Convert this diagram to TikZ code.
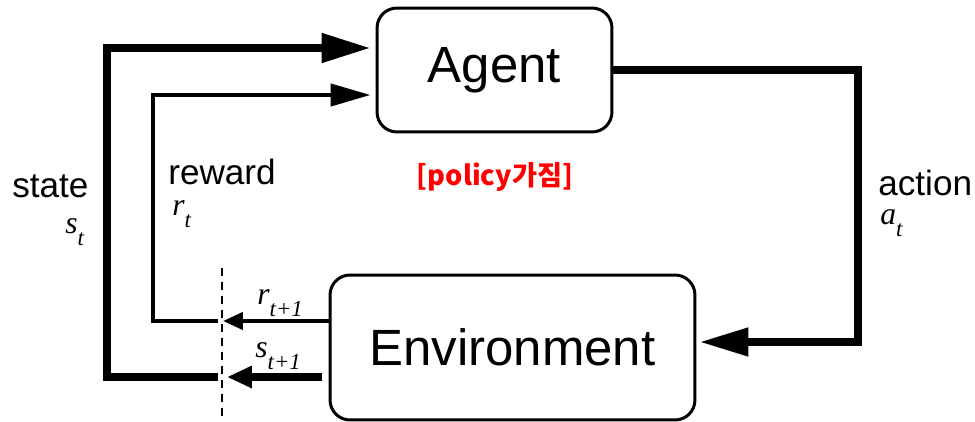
\documentclass[tikz,border=0pt]{standalone}
\usepackage{fontspec}
\setmainfont{Liberation Sans}
\newfontfamily\timesf{Liberation Serif}
\newfontfamily\krfont{Noto Sans CJK KR}
\usetikzlibrary{arrows.meta}
\newcommand{\symsub}[2]{{\timesf\itshape\fontsize{18}{18}\selectfont #1\raisebox{-0.35em}{\fontsize{13}{13}\selectfont #2}}}

\begin{document}
\begin{tikzpicture}[x=0.02cm,y=-0.02cm,
  box/.style={draw,rectangle,rounded corners=0.4cm,line width=1.7pt,font=\fontsize{29}{29}\selectfont},
  heavy/.style={line width=4.5pt},
  light/.style={line width=2.5pt},
  cut/.style={line width=0.8pt,dash pattern=on 0.16cm off 0.12cm},
  lbl/.style={anchor=base west,inner sep=0pt,font=\fontsize{20}{20}\selectfont},
  sym/.style={anchor=base west,inner sep=0pt}]
  \useasboundingbox (0,0) rectangle (975,422);

  \node[box,minimum width=4.7cm,minimum height=2.48cm] (agent) at (494.5,70) {Agent};
  \node[box,minimum width=7.3cm,minimum height=2.9cm] (env) at (512.5,347.5) {Environment};

  \coordinate (cutT) at (222,268);
  \coordinate (cutB) at (222,422);
  \coordinate (sIn) at (227,377);
  \coordinate (sOut) at (218,377);
  \coordinate (rIn) at (223,321);
  \coordinate (rOut) at (218,321);
  \coordinate (sTurn) at (107,48);
  \coordinate (rTurn) at (153,95);
  \coordinate (aTurn) at (858,342);

  \draw[cut] (cutT) -- (cutB);
  \draw[heavy,-{Triangle[length=0.5cm,width=0.42cm]},shorten <=0.14cm] (env.west |- sIn) -- (sIn);
  \draw[light,-{Triangle[length=0.4cm,width=0.34cm]}] (env.west |- rIn) -- (rIn);
  \draw[heavy,-{Triangle[length=0.98cm,width=0.56cm]},shorten >=0.1cm] (sOut) -| (sTurn) -- (agent.west |- sTurn);
  \draw[light,-{Triangle[length=0.8cm,width=0.44cm]},shorten >=0.1cm] (rOut) -| (rTurn) -- (agent.west |- rTurn);
  \draw[heavy,-{Triangle[length=0.98cm,width=0.54cm]},shorten >=0.06cm] (agent.east) -| (aTurn) -- (env.east |- aTurn);

  \node[lbl] (stateLbl) at (12,198) {state};
  \node[sym] (stateSym) at (65,234) {\symsub{s}{t}};
  \node[lbl] (rewardLbl) at (168,185) {reward};
  \node[sym] (rewardSym) at (172,216) {\symsub{r}{t}};
  \node[lbl] (actionLbl) at (878,196) {action};
  \node[sym] (actionSym) at (880,225) {\symsub{a}{t}};
  \node[sym] (rNext) at (257,305) {\symsub{r}{t+1}};
  \node[sym] (sNext) at (255,358) {\symsub{s}{t+1}};
  \node[anchor=base,inner sep=0pt,text=red,font=\krfont\bfseries\fontsize{15.5}{15.5}\selectfont] (policy) at (495,186) {[policy가짐]};
\end{tikzpicture}
\end{document}
